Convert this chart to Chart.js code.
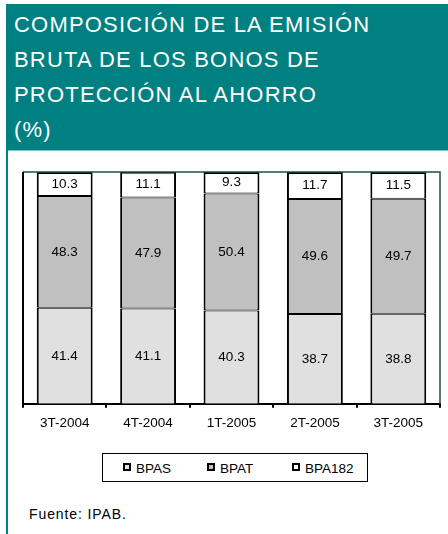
<!DOCTYPE html>
<html>
<head>
<meta charset="utf-8">
<script src="https://cdn.jsdelivr.net/npm/chart.js@4/dist/chart.umd.min.js"></script>
<style>
  html, body { margin: 0; padding: 0; background: #fff; }
  body { width: 448px; height: 534px; position: relative; overflow: hidden; font-family: "Liberation Sans", Arial, sans-serif; }
  #header { position: absolute; left: 6px; top: 4px; width: 442px; height: 146px; background: #008080; }
  #title { position: absolute; left: 8px; top: 3px; color: #fff; font-size: 22px; line-height: 35px; letter-spacing: 1.2px; white-space: nowrap; }
  #hline { position: absolute; left: 8px; top: 150px; width: 440px; height: 1px; background: #7fbfbf; }
  #lborder { position: absolute; left: 6px; top: 150px; width: 2px; height: 384px; background: #008080; }
  #wrap { position: absolute; left: 0; top: 150px; width: 448px; height: 290px; }
  #legend { position: absolute; left: 102px; top: 453px; width: 264px; height: 27px; border: 1px solid #000; box-sizing: content-box; font-size: 13.5px; }
  .item { position: absolute; top: 7px; line-height: 15px; white-space: nowrap; }
  .sw { display: inline-block; width: 4px; height: 4px; border: 2px solid #000; margin-right: 5px; vertical-align: 2px; }
  #footer { position: absolute; left: 29px; top: 506px; font-size: 14px; letter-spacing: 0.9px; }
</style>
</head>
<body>
<div id="header"><div id="title">COMPOSICIÓN DE LA EMISIÓN<br>BRUTA DE LOS BONOS DE<br>PROTECCIÓN AL AHORRO<br>(%)</div></div>
<div id="hline"></div>
<div id="lborder"></div>
<div id="wrap"><canvas id="c" width="448" height="290"></canvas></div>
<div id="legend"></div>
<div id="footer">Fuente: IPAB.</div>
<script>
const categories = ["3T-2004", "4T-2004", "1T-2005", "2T-2005", "3T-2005"];
const seriesNames = ["BPAS", "BPAT", "BPA182"];
const bpas = [41.4, 41.1, 40.3, 38.7, 38.8];
const bpat = [48.3, 47.9, 50.4, 49.6, 49.7];
const bpa182 = [10.3, 11.1, 9.3, 11.7, 11.5];
const colors = ["#e0e0e0", "#c0c0c0", "#ffffff"];

const FONT = { family: "'Liberation Sans', Arial, sans-serif", size: 13.5 };

const frameAndLabels = {
  id: 'frameAndLabels',
  afterDatasetsDraw(chart) {
    const ctx = chart.ctx;
    const a = chart.chartArea;
    ctx.save();
    ctx.strokeStyle = '#1f4f4f';
    ctx.lineWidth = 1.5;
    ctx.beginPath();
    ctx.moveTo(a.left, a.top);
    ctx.lineTo(a.right, a.top);
    ctx.lineTo(a.right, a.bottom);
    ctx.stroke();
    ctx.strokeStyle = '#000';
    ctx.lineWidth = 2;
    ctx.beginPath();
    ctx.moveTo(a.left, a.top);
    ctx.lineTo(a.left, a.bottom);
    ctx.stroke();
    ctx.fillStyle = '#000';
    ctx.font = FONT.size + 'px ' + FONT.family;
    ctx.textAlign = 'center';
    ctx.textBaseline = 'middle';
    chart.data.datasets.forEach((ds, i) => {
      const meta = chart.getDatasetMeta(i);
      meta.data.forEach((bar, j) => {
        const y = (bar.y + bar.base) / 2;
        ctx.fillText(ds.data[j].toFixed(1), bar.x, y);
      });
    });
    ctx.restore();
  }
};

const borders = [
  { left: 2, right: 2, top: 1, bottom: 0 },
  { left: 2, right: 2, top: 1, bottom: 1 },
  { left: 2, right: 2, top: 2, bottom: 1 }
];

const chart = new Chart(document.getElementById('c'), {
  type: 'bar',
  data: {
    labels: categories,
    datasets: [
      { label: seriesNames[0], data: bpas, backgroundColor: colors[0] },
      { label: seriesNames[1], data: bpat, backgroundColor: colors[1] },
      { label: seriesNames[2], data: bpa182, backgroundColor: colors[2] }
    ].map((d, i) => Object.assign(d, { borderColor: '#000', borderWidth: borders[i], borderSkipped: false, barPercentage: 0.67, categoryPercentage: 1 }))
  },
  options: {
    responsive: false,
    animation: false,
    devicePixelRatio: 1,
    layout: { padding: { left: 23, right: 8, top: 22, bottom: 2 } },
    plugins: { legend: { display: false }, tooltip: { enabled: false } },
    scales: {
      x: {
        stacked: true,
        offset: true,
        grid: { display: true, drawOnChartArea: false, tickLength: 4, color: '#000', lineWidth: 2, offset: true },
        border: { display: true, color: '#000', width: 2 },
        ticks: { color: '#000', font: FONT, padding: 7, maxRotation: 0 }
      },
      y: {
        stacked: true,
        display: false,
        min: 0,
        max: 100
      }
    }
  },
  plugins: [frameAndLabels]
});

const legend = document.getElementById('legend');
const lx = [20, 104, 189];
seriesNames.forEach((n, i) => {
  const d = document.createElement('div');
  d.className = 'item';
  d.style.left = lx[i] + 'px';
  const s = document.createElement('span');
  s.className = 'sw';
  s.style.background = colors[i];
  d.appendChild(s);
  d.appendChild(document.createTextNode(n));
  legend.appendChild(d);
});
</script>
</body>
</html>
